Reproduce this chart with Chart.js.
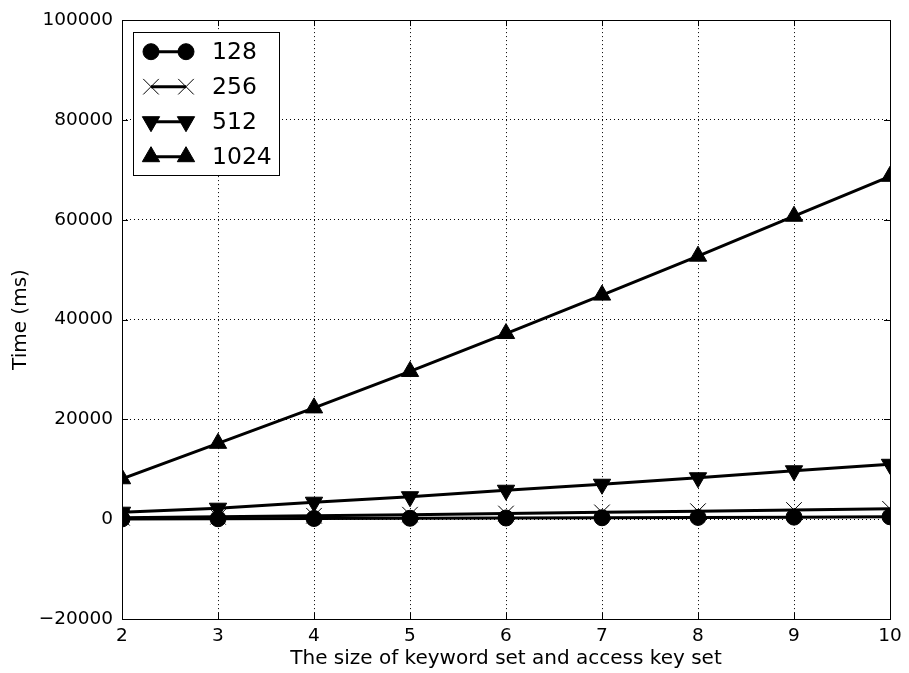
<!DOCTYPE html>
<html>
<head>
<meta charset="utf-8">
<script src="https://cdn.jsdelivr.net/npm/chart.js@4/dist/chart.umd.min.js"></script>
<style>
  html, body { margin: 0; padding: 0; background: #fff; }
  #wrap { width: 909px; height: 673px; }
</style>
</head>
<body>
<div id="wrap"><canvas id="c" width="909" height="673"></canvas></div>
<script>
// Size of keyword set / access key set
const keySetSizes = [2, 3, 4, 5, 6, 7, 8, 9, 10];

// Time (ms) per key length
const time128  = [50, 90, 140, 190, 240, 290, 350, 410, 480];
const time256  = [280, 470, 690, 910, 1140, 1370, 1610, 1850, 2090];
const time512  = [1400, 2200, 3400, 4500, 5800, 7000, 8300, 9700, 11000];
const time1024 = [8100, 15200, 22300, 29600, 37200, 44900, 52700, 60700, 68700];

const seriesLabels = ['128', '256', '512', '1024'];
const yTickValues = [-20000, 0, 20000, 40000, 60000, 80000, 100000];
const xTickValues = [2, 3, 4, 5, 6, 7, 8, 9, 10];

const FONT = 'DejaVu Sans';
const toPoints = vals => keySetSizes.map((x, i) => ({ x: x, y: vals[i] }));

const markerStyles = [
  { pointStyle: 'circle',   pointRadius: 8,  pointRotation: 0,   pointBorderWidth: 1 },
  { pointStyle: 'crossRot', pointRadius: 11, pointRotation: 0,   pointBorderWidth: 1 },
  { pointStyle: 'triangle', pointRadius: 10, pointRotation: 180, pointBorderWidth: 1 },
  { pointStyle: 'triangle', pointRadius: 10, pointRotation: 0,   pointBorderWidth: 1 }
];
const seriesValues = [time128, time256, time512, time1024];

const datasets = seriesValues.map((vals, i) => Object.assign({
  label: seriesLabels[i],
  data: toPoints(vals),
  borderColor: '#000',
  backgroundColor: '#000',
  pointBackgroundColor: '#000',
  pointBorderColor: '#000',
  borderWidth: 3,
  tension: 0,
  clip: 0,
  order: seriesValues.length - i
}, markerStyles[i]));

// Frame, inward tick marks and a legend with two markers per entry
const framePlugin = {
  id: 'frame',
  afterDatasetsDraw(chart) {
    const ctx = chart.ctx;
    const a = chart.chartArea;
    const xs = chart.scales.x, ys = chart.scales.y;
    ctx.save();
    ctx.strokeStyle = '#000';
    ctx.lineWidth = 1;
    ctx.setLineDash([]);
    ctx.strokeRect(Math.round(a.left) + 0.5, Math.round(a.top) + 0.5,
                   Math.round(a.right - a.left), Math.round(a.bottom - a.top));
    const tl = 6;
    ctx.beginPath();
    xTickValues.forEach(v => {
      const px = Math.round(xs.getPixelForValue(v)) + 0.5;
      ctx.moveTo(px, a.bottom); ctx.lineTo(px, a.bottom - tl);
      ctx.moveTo(px, a.top);    ctx.lineTo(px, a.top + tl);
    });
    yTickValues.forEach(v => {
      const py = Math.round(ys.getPixelForValue(v)) + 0.5;
      ctx.moveTo(a.left, py);  ctx.lineTo(a.left + tl, py);
      ctx.moveTo(a.right, py); ctx.lineTo(a.right - tl, py);
    });
    ctx.stroke();
    ctx.restore();
  },
  afterDraw(chart) {
    const ctx = chart.ctx;
    const box = { x: 133.5, y: 32.5, w: 146, h: 143 };
    ctx.save();
    ctx.fillStyle = '#fff';
    ctx.fillRect(box.x, box.y, box.w, box.h);
    ctx.strokeStyle = '#000';
    ctx.lineWidth = 1;
    ctx.strokeRect(box.x, box.y, box.w, box.h);
    const x1 = 151, x2 = 186, tx = 212;
    chart.data.datasets.forEach((ds, i) => {
      const y = 51.7 + i * 35;
      ctx.strokeStyle = '#000';
      ctx.fillStyle = '#000';
      ctx.lineWidth = 3;
      ctx.beginPath();
      ctx.moveTo(x1, y); ctx.lineTo(x2, y);
      ctx.stroke();
      const opts = {
        pointStyle: ds.pointStyle,
        radius: ds.pointRadius,
        rotation: ds.pointRotation,
        borderWidth: ds.pointBorderWidth
      };
      ctx.lineWidth = ds.pointBorderWidth;
      Chart.helpers.drawPoint(ctx, opts, x1, y);
      Chart.helpers.drawPoint(ctx, opts, x2, y);
      ctx.fillStyle = '#000';
      ctx.font = '23.5px "' + FONT + '"';
      ctx.textAlign = 'left';
      ctx.textBaseline = 'middle';
      ctx.fillText(ds.label, tx, y + 1);
    });
    ctx.restore();
  }
};

const gridOpts = {
  display: true,
  drawTicks: false,
  color: '#000',
  lineWidth: 1
};

new Chart(document.getElementById('c'), {
  type: 'line',
  data: { datasets: datasets },
  options: {
    responsive: false,
    animation: false,
    devicePixelRatio: 1,
    layout: { padding: { top: 19, right: 19, bottom: 0, left: 0 } },
    plugins: {
      legend: { display: false },
      tooltip: { enabled: false }
    },
    scales: {
      x: {
        type: 'linear',
        min: 2, max: 10,
        afterBuildTicks(scale) { scale.ticks = xTickValues.map(v => ({ value: v })); },
        afterFit(scale) { scale.height = 54; },
        grid: gridOpts,
        border: { display: false, dash: [1, 3] },
        ticks: {
          color: '#000',
          padding: 6,
          maxRotation: 0,
          font: { family: FONT, size: 18.5 },
          callback: v => String(v)
        },
        title: {
          display: true,
          text: 'The size of keyword set and access key set',
          color: '#000',
          font: { family: FONT, size: 20 },
          padding: { top: 0, bottom: 2 }
        }
      },
      y: {
        type: 'linear',
        min: -20000, max: 100000,
        afterBuildTicks(scale) { scale.ticks = yTickValues.map(v => ({ value: v })); },
        afterFit(scale) { scale.width = 122; },
        grid: gridOpts,
        border: { display: false, dash: [1, 3] },
        ticks: {
          color: '#000',
          padding: 9,
          font: { family: FONT, size: 18.5 },
          callback: v => String(v).replace('-', '\u2212')
        },
        title: {
          display: true,
          text: 'Time (ms)',
          color: '#000',
          font: { family: FONT, size: 20 },
          padding: { top: 9, bottom: 0 }
        }
      }
    }
  },
  plugins: [framePlugin]
});
</script>
</body>
</html>
